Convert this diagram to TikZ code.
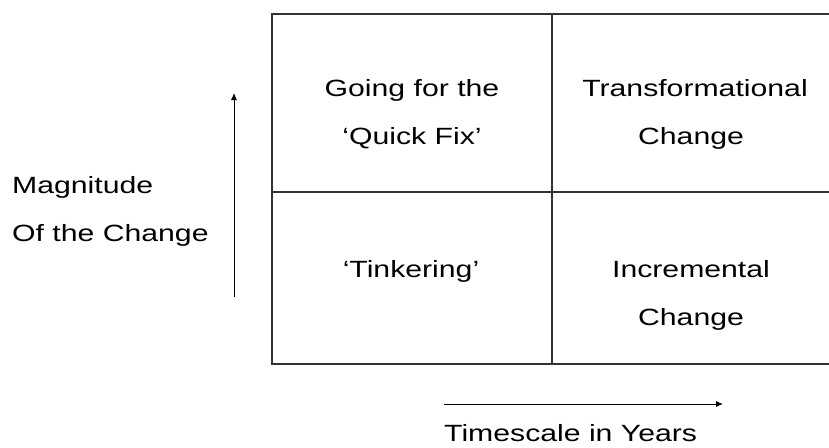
\documentclass[tikz,border=0pt]{standalone}
\usepackage{fontspec}
\setmainfont{Liberation Sans}
\usetikzlibrary{arrows.meta}
\newcommand\widetxt[1]{\scalebox{1.285}[1]{#1}}
\tikzset{
  gridline/.style={draw=black!80, line width=1.2pt},
  axisarrow/.style={draw=black, line width=0.9pt, -{Latex[length=7pt,width=6pt]}},
  lbl/.style={inner sep=0pt, anchor=base, font=\fontsize{23.5}{28}\selectfont},
  lbll/.style={inner sep=0pt, anchor=base west, font=\fontsize{23.5}{28}\selectfont}
}
\begin{document}
\begin{tikzpicture}[x=1pt,y=-1pt]
\useasboundingbox (0,0) rectangle (829,447);
% grid corners
\coordinate (tl) at (272,14);
\coordinate (tm) at (552,14);
\coordinate (tr) at (829,14);
\coordinate (ml) at (272,192);
\coordinate (mr) at (829,192);
\coordinate (bl) at (272,364);
\coordinate (bm) at (552,364);
\coordinate (br) at (829,364);
\draw[gridline] (tr) -- (tl) -- (bl) -- (br);
\draw[gridline] (ml) -- (mr);
\draw[gridline] (tm) -- (bm);
% axes
\coordinate (va0) at (234,297);
\coordinate (va1) at (234,93);
\coordinate (ha0) at (444,404);
\coordinate (ha1) at (723,404);
\draw[axisarrow] (va0) -- (va1);
\draw[axisarrow] (ha0) -- (ha1);
% cell texts
\node[lbl] (q1a) at (412,96) {\widetxt{Going for the}};
\node[lbl] (q1b) at (412,144) {\widetxt{‘Quick Fix’}};
\node[lbl] (q2a) at (695,96) {\widetxt{Transformational}};
\node[lbl] (q2b) at (691,144) {\widetxt{Change}};
\node[lbl] (q3a) at (411,277) {\widetxt{‘Tinkering’}};
\node[lbl] (q4a) at (691,277) {\widetxt{Incremental}};
\node[lbl] (q4b) at (691,325) {\widetxt{Change}};
% axis labels
\node[lbll] (ya) at (12,193) {\widetxt{Magnitude}};
\node[lbll] (yb) at (12,241) {\widetxt{Of the Change}};
\node[lbll] (xa) at (444,441) {\widetxt{Timescale in Years}};
\end{tikzpicture}
\end{document}
